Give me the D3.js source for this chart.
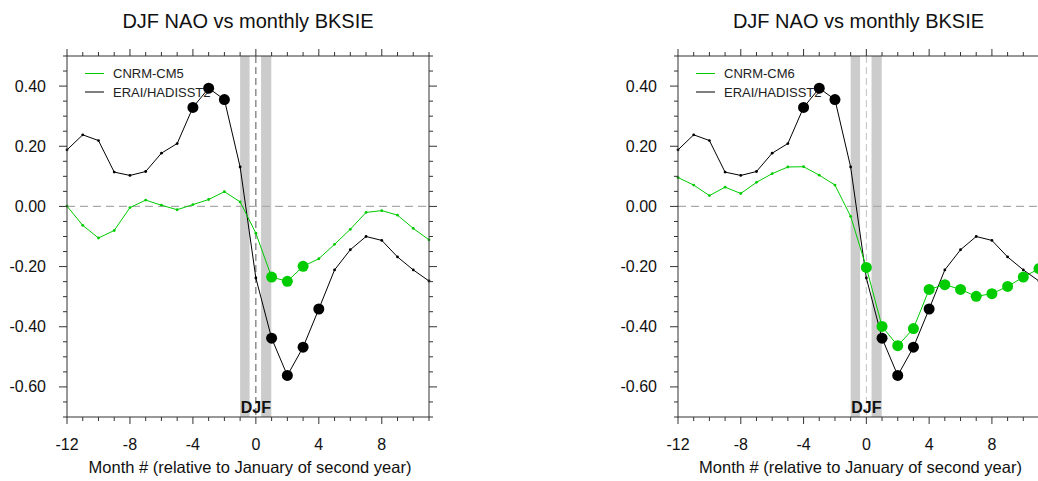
<!DOCTYPE html>
<html><head><meta charset="utf-8">
<script src="https://cdn.jsdelivr.net/npm/d3@7"></script>
<style>
html,body{margin:0;padding:0;background:#fff;}
svg{display:block;font-family:"Liberation Sans",Arial,Helvetica,sans-serif;}
</style></head>
<body>
<svg id="chart" width="1038" height="481"></svg>
<script>
// ---- data ----
const months = [-12,-11,-10,-9,-8,-7,-6,-5,-4,-3,-2,-1,0,1,2,3,4,5,6,7,8,9,10,11];
const eraiValues = [0.188,0.238,0.219,0.114,0.103,0.116,0.177,0.209,0.329,0.393,0.355,0.131,
                    -0.238,-0.438,-0.562,-0.468,-0.341,-0.211,-0.144,-0.100,-0.113,-0.168,-0.211,-0.248];
const cm5Values  = [0.001,-0.063,-0.105,-0.080,-0.004,0.021,0.004,-0.011,0.006,0.023,0.049,0.015,
                    -0.089,-0.235,-0.249,-0.199,-0.174,-0.126,-0.076,-0.020,-0.014,-0.029,-0.073,-0.111];
const cm6Values  = [0.096,0.071,0.036,0.064,0.043,0.080,0.109,0.131,0.132,0.104,0.071,-0.033,
                    -0.203,-0.399,-0.463,-0.406,-0.276,-0.260,-0.276,-0.299,-0.290,-0.266,-0.235,-0.207];
const eraiSignificant = [-4,-3,-2,1,2,3,4];
const cm5Significant  = [1,2,3];
const cm6Significant  = [0,1,2,3,4,5,6,7,8,9,10,11];
const xMajorTicks = [-12,-8,-4,0,4,8];
const yMajorTicks = [0.4,0.2,0.0,-0.2,-0.4,-0.6];
const yTickLabels = ["0.40","0.20","0.00","-0.20","-0.40","-0.60"];
const djfBands = [[-1.0,-0.4],[0.33,0.98]];
const titleText = "DJF NAO vs monthly BKSIE";
const xTitle = "Month # (relative to January of second year)";
const obsName = "ERAI/HADISST2";

const panels = [
  {left:67, right:429, model:"CNRM-CM5", values:cm5Values, sig:cm5Significant, zeroLine:"#555"},
  {left:678, right:1039, model:"CNRM-CM6", values:cm6Values, sig:cm6Significant, zeroLine:"#c0c0c0"}
];

const svg = d3.select("#chart");
const plotTop = 56, plotBottom = 417;
const green = "#00cc00";
const frameColor = "#333";

panels.forEach(p => {
  const x = d3.scaleLinear().domain([-12,11]).range([p.left,p.right]);
  const y = d3.scaleLinear().domain([-0.7,0.5]).range([plotBottom,plotTop]);
  const g = svg.append("g");

  // DJF bands
  djfBands.forEach(b => {
    g.append("rect").attr("x",x(b[0])).attr("y",plotTop)
      .attr("width",x(b[1])-x(b[0])).attr("height",plotBottom-plotTop)
      .attr("fill","#cccccc");
  });
  // vertical dashed line at 0
  g.append("line").attr("x1",x(0)).attr("x2",x(0)).attr("y1",plotTop).attr("y2",plotBottom)
    .attr("stroke",p.zeroLine).attr("stroke-width",1).attr("stroke-dasharray","7,4");
  // horizontal dashed zero line
  g.append("line").attr("x1",p.left).attr("x2",p.right).attr("y1",y(0)).attr("y2",y(0))
    .attr("stroke","#aaaaaa").attr("stroke-width",1.2).attr("stroke-dasharray","8,5");

  // DJF label
  g.append("text").attr("x",x(0)).attr("y",413).attr("text-anchor","middle")
    .attr("font-size",16).attr("font-weight","bold").attr("fill","#111").text("DJF");

  // legend
  const lg = g.append("g");
  lg.append("line").attr("x1",p.left+18).attr("x2",p.left+37).attr("y1",73.5).attr("y2",73.5)
    .attr("stroke",green).attr("stroke-width",1);
  lg.append("text").attr("x",p.left+46).attr("y",78).attr("font-size",13).attr("fill","#222").text(p.model);
  lg.append("line").attr("x1",p.left+18).attr("x2",p.left+37).attr("y1",92).attr("y2",92)
    .attr("stroke","#000").attr("stroke-width",1);
  lg.append("text").attr("x",p.left+46).attr("y",96.5).attr("font-size",13).attr("fill","#222").text(obsName);

  const line = d3.line().x((d,i)=>x(months[i])).y(d=>y(d));

  // observations
  g.append("path").attr("d",line(eraiValues)).attr("fill","none").attr("stroke","#000").attr("stroke-width",1);
  g.selectAll(null).data(eraiValues).enter().append("circle")
    .attr("cx",(d,i)=>x(months[i])).attr("cy",d=>y(d))
    .attr("r",(d,i)=>eraiSignificant.includes(months[i])?5.5:1.4).attr("fill","#000");

  // model
  g.append("path").attr("d",line(p.values)).attr("fill","none").attr("stroke",green).attr("stroke-width",1);
  g.selectAll(null).data(p.values).enter().append("circle")
    .attr("cx",(d,i)=>x(months[i])).attr("cy",d=>y(d))
    .attr("r",(d,i)=>p.sig.includes(months[i])?5.5:1.4).attr("fill",green);

  // frame
  g.append("rect").attr("x",p.left).attr("y",plotTop).attr("width",p.right-p.left).attr("height",plotBottom-plotTop)
    .attr("fill","none").attr("stroke",frameColor).attr("stroke-width",1);

  // ticks
  const xMinor = months.filter(m => !xMajorTicks.includes(m));
  const ax = g.append("g").attr("stroke",frameColor).attr("stroke-width",1);
  xMajorTicks.forEach(m => {
    ax.append("line").attr("x1",x(m)).attr("x2",x(m)).attr("y1",plotBottom).attr("y2",plotBottom+7);
    ax.append("line").attr("x1",x(m)).attr("x2",x(m)).attr("y1",plotTop).attr("y2",plotTop-7);
  });
  xMinor.forEach(m => {
    ax.append("line").attr("x1",x(m)).attr("x2",x(m)).attr("y1",plotBottom).attr("y2",plotBottom+4);
    ax.append("line").attr("x1",x(m)).attr("x2",x(m)).attr("y1",plotTop).attr("y2",plotTop-4);
  });
  const yMinor = d3.range(-14,11).map(k=>k*0.05).filter(v=>!yMajorTicks.some(t=>Math.abs(t-v)<1e-6));
  yMajorTicks.forEach(v => {
    ax.append("line").attr("x1",p.left).attr("x2",p.left-8).attr("y1",y(v)).attr("y2",y(v));
    ax.append("line").attr("x1",p.right).attr("x2",p.right+8).attr("y1",y(v)).attr("y2",y(v));
  });
  yMinor.forEach(v => {
    ax.append("line").attr("x1",p.left).attr("x2",p.left-4).attr("y1",y(v)).attr("y2",y(v));
    ax.append("line").attr("x1",p.right).attr("x2",p.right+4).attr("y1",y(v)).attr("y2",y(v));
  });

  // tick labels
  xMajorTicks.forEach(m => {
    g.append("text").attr("x",x(m)).attr("y",450).attr("text-anchor","middle")
      .attr("font-size",16).attr("fill","#111").text(m);
  });
  yMajorTicks.forEach((v,i) => {
    g.append("text").attr("x",p.left-21).attr("y",y(v)+5.5).attr("text-anchor","end")
      .attr("font-size",16).attr("fill","#111").text(yTickLabels[i]);
  });

  // titles
  g.append("text").attr("x",(p.left+p.right)/2).attr("y",28).attr("text-anchor","middle")
    .attr("font-size",20).attr("fill","#111").text(titleText);
  g.append("text").attr("x",(p.left+p.right)/2+2).attr("y",473).attr("text-anchor","middle")
    .attr("font-size",16.5).attr("fill","#111").text(xTitle);
});
</script>
</body></html>
